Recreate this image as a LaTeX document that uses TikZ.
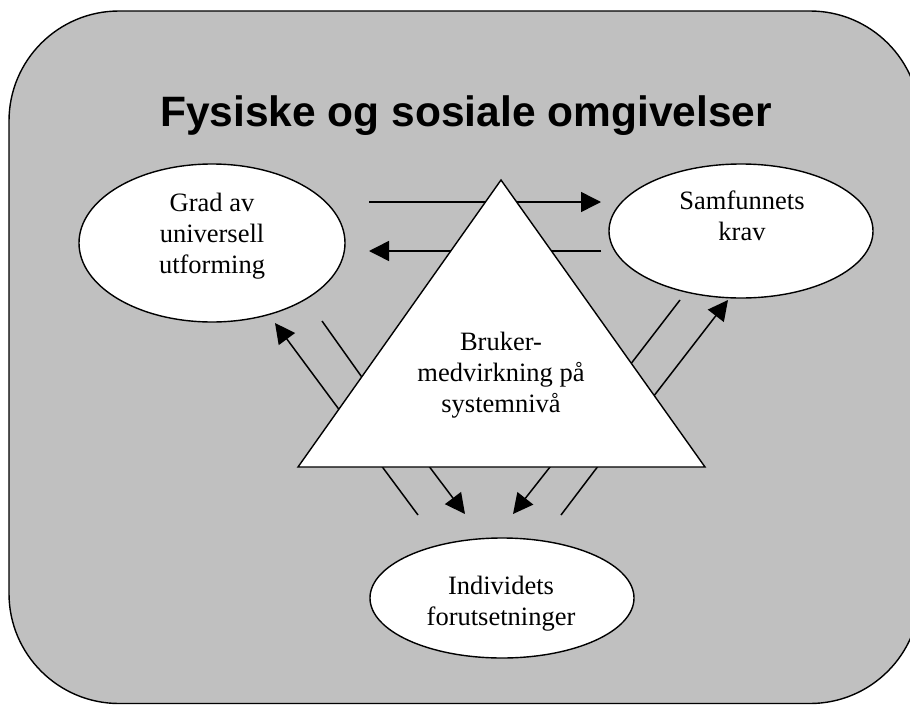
\documentclass[tikz,border=0pt]{standalone}
\usepackage{fontspec}
\setmainfont{Liberation Serif}
\newfontfamily\titlefont{Liberation Sans}
\usetikzlibrary{arrows.meta,shapes.geometric}
\definecolor{omgivelse}{HTML}{C0C0C0}

\tikzset{
    field/.style={ellipse, draw, fill=white, line width=1.4pt, inner sep=0pt},
    fieldtext/.style={align=center, font=\fontsize{26.5}{31}\selectfont},
    link/.style={line width=1.5pt},
    linkarrow/.style={link, -{Triangle[length=20pt,width=20pt]}}
}

\begin{document}
\begin{tikzpicture}[x=1pt,y=-1pt]
    \useasboundingbox (0,0) rectangle (910,704);
    \clip (0,0) rectangle (910,704);
    % omgivelser
    \filldraw[fill=omgivelse, line width=1.4pt, rounded corners=110pt] (9,11) rectangle (920,703.5);
    \node[anchor=base, font=\titlefont\bfseries\fontsize{42.5}{50}\selectfont] (title) at (466,126) {Fysiske og sosiale omgivelser};

    % endepunkter for pilene
    \coordinate (ta1) at (369,202); \coordinate (ta2) at (601,202);
    \coordinate (tb1) at (601,251); \coordinate (tb2) at (369,251);
    \coordinate (la1) at (322,321); \coordinate (la2) at (376,397);
    \coordinate (lb1) at (352,427); \coordinate (lb2) at (275,323);
    \coordinate (ra1) at (680,300); \coordinate (ra2) at (620,378);
    \coordinate (rb1) at (643,410); \coordinate (rb2) at (728,300);
    \coordinate (ba1) at (372,453); \coordinate (ba2) at (418,515);
    \coordinate (bb1) at (419,453); \coordinate (bb2) at (465,514);
    \coordinate (bc1) at (561,453); \coordinate (bc2) at (513,514);
    \coordinate (bd1) at (608,453); \coordinate (bd2) at (561,515);

    \draw[linkarrow] (ta1) -- (ta2);
    \draw[linkarrow] (tb1) -- (tb2);
    \draw[link] (la1) -- (la2);
    \draw[linkarrow] (lb1) -- (lb2);
    \draw[link] (ra1) -- (ra2);
    \draw[linkarrow] (rb1) -- (rb2);
    \draw[link] (ba1) -- (ba2);
    \draw[linkarrow] (bb1) -- (bb2);
    \draw[linkarrow] (bc1) -- (bc2);
    \draw[link] (bd1) -- (bd2);

    % felt
    \node[field, minimum width=266pt, minimum height=158pt] (grad) at (212,243) {};
    \node[field, minimum width=264pt, minimum height=134pt] (krav) at (741,231) {};
    \node[field, minimum width=264pt, minimum height=120pt] (individ) at (502,598) {};
    \filldraw[fill=white, line width=1.4pt] (501,180) -- (705,467) -- (298,467) -- cycle;

    \node[fieldtext] (gradtext) at (212,236) {Grad av\\universell\\utforming};
    \node[fieldtext] (kravtext) at (742,216) {Samfunnets\\krav};
    \node[fieldtext] (bruker) at (501,375) {Bruker-\\medvirkning på\\systemnivå};
    \node[fieldtext] (individtext) at (501,604) {Individets\\forutsetninger};
\end{tikzpicture}
\end{document}
